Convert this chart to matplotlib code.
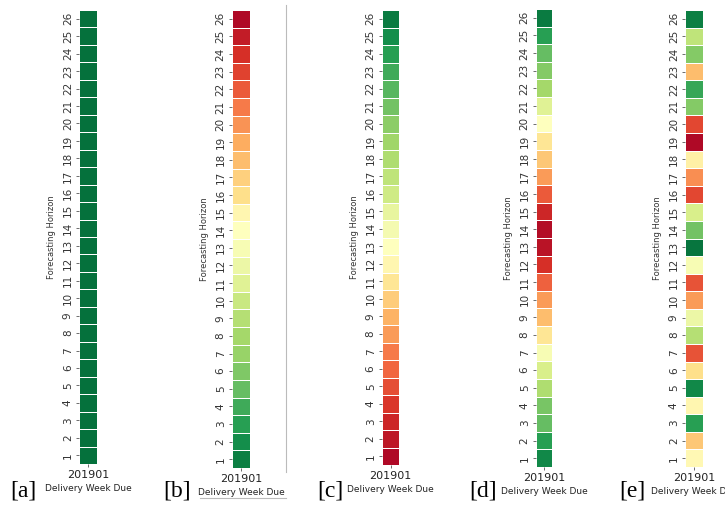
import numpy as np
import matplotlib
matplotlib.use("Agg")
import matplotlib.pyplot as plt
from matplotlib.lines import Line2D

horizons = list(range(1, 27))
week_label = "201901"
panel_tags = ["[a]", "[b]", "[c]", "[d]", "[e]"]

# values (0..1 on RdYlGn scale), horizon 1 first
vals_a = [0.98] * 26
vals_b = [0.95, 0.92, 0.88, 0.85, 0.80, 0.76, 0.72, 0.70, 0.67, 0.63, 0.58, 0.55, 0.52,
          0.50, 0.47, 0.40, 0.37, 0.33, 0.30, 0.26, 0.22, 0.17, 0.13, 0.10, 0.06, 0.02]
vals_c = [0.02, 0.05, 0.08, 0.11, 0.15, 0.19, 0.22, 0.27, 0.31, 0.36, 0.42, 0.47, 0.50,
          0.53, 0.56, 0.62, 0.65, 0.68, 0.71, 0.74, 0.78, 0.82, 0.85, 0.88, 0.92, 0.96]
vals_d = [0.93, 0.88, 0.80, 0.77, 0.68, 0.60, 0.52, 0.42, 0.33, 0.27, 0.18, 0.10, 0.04,
          0.03, 0.08, 0.17, 0.27, 0.35, 0.42, 0.50, 0.58, 0.70, 0.75, 0.80, 0.88, 0.96]
vals_e = [0.48, 0.35, 0.88, 0.47, 0.93, 0.40, 0.16, 0.67, 0.55, 0.27, 0.16, 0.52, 0.97,
          0.78, 0.60, 0.14, 0.25, 0.45, 0.02, 0.14, 0.75, 0.86, 0.33, 0.75, 0.65, 0.95]
panels = [vals_a, vals_b, vals_c, vals_d, vals_e]

W, H = 725, 505
fig = plt.figure(figsize=(W / 100, H / 100), dpi=100)

# pixel boxes (left, right, top, bottom) for each heatmap column
boxes = [(79, 97, 10, 464), (232, 250, 10, 468), (382, 399, 10, 465),
         (536, 552, 9, 467), (685, 703, 10, 467)]
tag_x = [10, 163, 317, 469, 619]

cmap = plt.get_cmap("RdYlGn")
for vals, (l, r, t, b), tag, tx in zip(panels, boxes, panel_tags, tag_x):
    ax = fig.add_axes([l / W, 1 - b / H, (r - l) / W, (b - t) / H])
    data = np.array(vals).reshape(-1, 1)
    ax.pcolormesh(np.arange(2), np.arange(len(vals) + 1), data, cmap=cmap,
                  vmin=0, vmax=1, edgecolors="white", linewidth=0.4)
    ax.set_xlim(0, 1)
    ax.set_ylim(0, len(vals))
    ax.set_yticks(np.arange(len(vals)) + 0.5)
    ax.set_yticklabels([str(h) for h in horizons], rotation=90, va="center",
                       fontsize=7.5, color="#333333")
    ax.set_xticks([0.5])
    ax.set_xticklabels([week_label], fontsize=8, color="#222222")
    ax.tick_params(axis="y", length=2.5, width=0.6, pad=2, colors="#555555", labelcolor="#333333")
    ax.tick_params(axis="x", length=2.5, width=0.6, pad=1.5, colors="#555555", labelcolor="#222222")
    for s in ax.spines.values():
        s.set_visible(False)
    ax.set_ylabel("Forecasting Horizon", fontsize=6, color="#333333", labelpad=5)
    ax.set_xlabel("Delivery Week Due", fontsize=6.5, color="#222222", labelpad=3)
    fig.text(tx / W, 1 - 497 / H, tag, fontsize=17, family="Liberation Serif",
             ha="left", va="baseline", color="black")

# faint frame lines around panel b
fig.add_artist(Line2D([286 / W, 286 / W], [1 - 472 / H, 1 - 5 / H], color="#bbbbbb", lw=0.8))
fig.add_artist(Line2D([200 / W, 286 / W], [1 - 498 / H, 1 - 498 / H], color="#bbbbbb", lw=0.8))

fig.savefig("out.png", dpi=100, facecolor="white")
